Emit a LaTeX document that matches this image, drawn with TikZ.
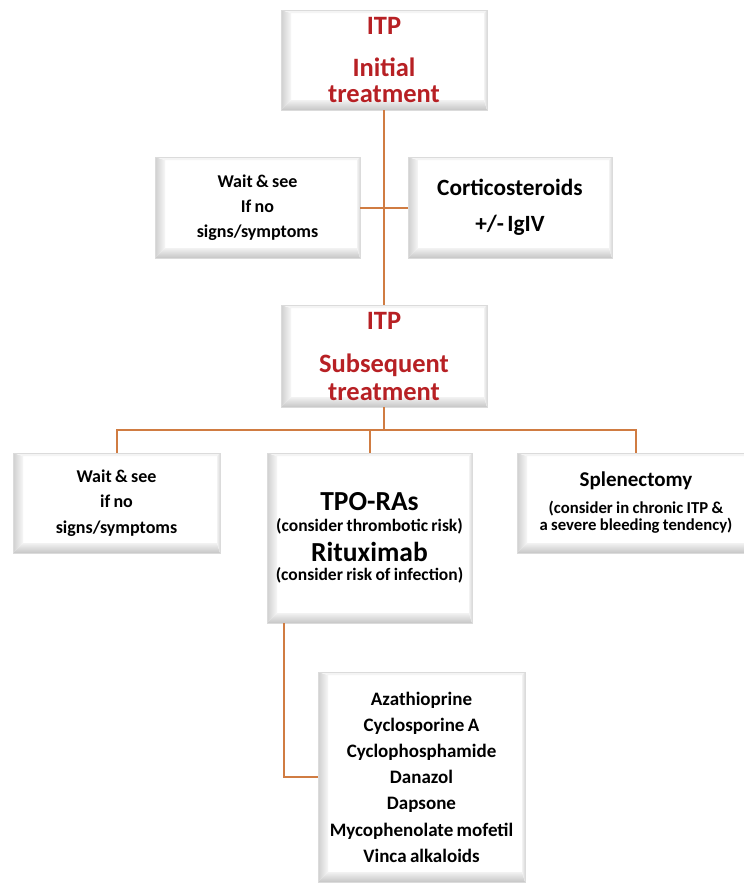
\documentclass[tikz,border=0pt]{standalone}
\usepackage{fontspec}
\setmainfont{Carlito}
\definecolor{connorange}{RGB}{208,124,66}
\definecolor{itpred}{RGB}{183,32,36}
\newcommand\setfs[2]{\fontsize{#1}{#2}\selectfont}
\tikzset{
  bevelbox/.style={rectangle, draw=gray!28, line width=0.7pt, fill=white, inner sep=0pt,
    align=center, font=\bfseries, execute at begin node={\setlength\parindent{0pt}},
    path picture={
      \coordinate (bsw) at (path picture bounding box.south west);
      \coordinate (bne) at (path picture bounding box.north east);
      \coordinate (bnw) at (bsw |- bne);
      \coordinate (bse) at (bne |- bsw);
      \coordinate (isw) at ([shift={(10,10)}]bsw);
      \coordinate (inw) at ([shift={(10,-3)}]bnw);
      \coordinate (ine) at ([shift={(-3,-3)}]bne);
      \coordinate (ise) at ([shift={(-3,10)}]bse);
      \shade[left color=gray!38, right color=gray!6] (bsw) -- (bnw) -- (inw) -- (isw) -- cycle;
      \shade[bottom color=gray!45, top color=gray!10] (bsw) -- (isw) -- (ise) -- (bse) -- cycle;
      \fill[gray!9] (bnw) -- (bne) -- (ine) -- (inw) -- cycle;
      \shade[left color=gray!10, right color=gray!30] (bne) -- (bse) -- (ise) -- (ine) -- cycle;
    }},
  titlebox/.style={bevelbox, text=itpred},
  connector/.style={draw=connorange, line width=2pt}
}
\begin{document}
\begin{tikzpicture}[x=1pt,y=1pt]
\fill[white] (0,0) rectangle (744,-884);
\useasboundingbox (0,0) rectangle (744,-884);
\clip (0,0) rectangle (744,-884);

\node[titlebox, minimum width=206, minimum height=100, text width=198] (top) at (384,-60)
  {\setfs{26.5}{26}ITP\par\setfs{26.5}{42}Initial\par\setfs{26.5}{26}treatment\par};

\node[bevelbox, minimum width=205, minimum height=101, text width=197] (wait1) at (257.5,-207.5)
  {\setfs{18}{25}Wait \& see\par If no\par signs/symptoms\par};

\node[bevelbox, minimum width=204, minimum height=101, text width=196] (cort) at (510,-207.5)
  {\setfs{23.3}{36}Corticosteroids\par +/- IgIV\par};

\node[titlebox, minimum width=206, minimum height=102, text width=198] (sub) at (384,-356)
  {\setfs{26.5}{27}ITP\par\setfs{26.5}{43}Subsequent\par\setfs{26.5}{28}treatment\par};

\node[bevelbox, minimum width=207, minimum height=100, text width=199] (wait2) at (116.5,-503)
  {\setfs{18}{25.5}Wait \& see\par if no\par signs/symptoms\par};

\node[bevelbox, minimum width=205, minimum height=170, text width=201] (mid) at (369.5,-538)
  {\setfs{27.5}{26}TPO-RAs\par\setfs{17.5}{21}(consider thrombotic risk)\par
   \setfs{27.5}{30}Rituximab\par\setfs{17.5}{19}(consider risk of infection)\par};

\node[bevelbox, minimum width=238, minimum height=100, text width=230] (splen) at (636,-503)
  {\setfs{21}{21}Splenectomy\par\setfs{16.7}{27}(consider in chronic ITP \&\par
   \setfs{16.7}{17}a severe bleeding tendency)\par};

\node[bevelbox, minimum width=207, minimum height=210, text width=201] (other) at (421.5,-777)
  {\setfs{19}{26.2}Azathioprine\par Cyclosporine A\par Cyclophosphamide\par Danazol\par
   Dapsone\par Mycophenolate mofetil\par Vinca alkaloids\par};

\draw[connector] (top.south) -- (sub.north);
\draw[connector] (wait1.east) -- (cort.west);
\coordinate (bus) at ([yshift=-23]sub.south);
\draw[connector] (sub.south) -- (bus);
\draw[connector] (wait2.north) |- (bus) -| (splen.north);
\draw[connector] (mid.north) -- (mid.north |- bus);
\coordinate (midfoot) at ([xshift=17]mid.south west);
\draw[connector] (midfoot) |- (other.west);
\end{tikzpicture}
\end{document}
